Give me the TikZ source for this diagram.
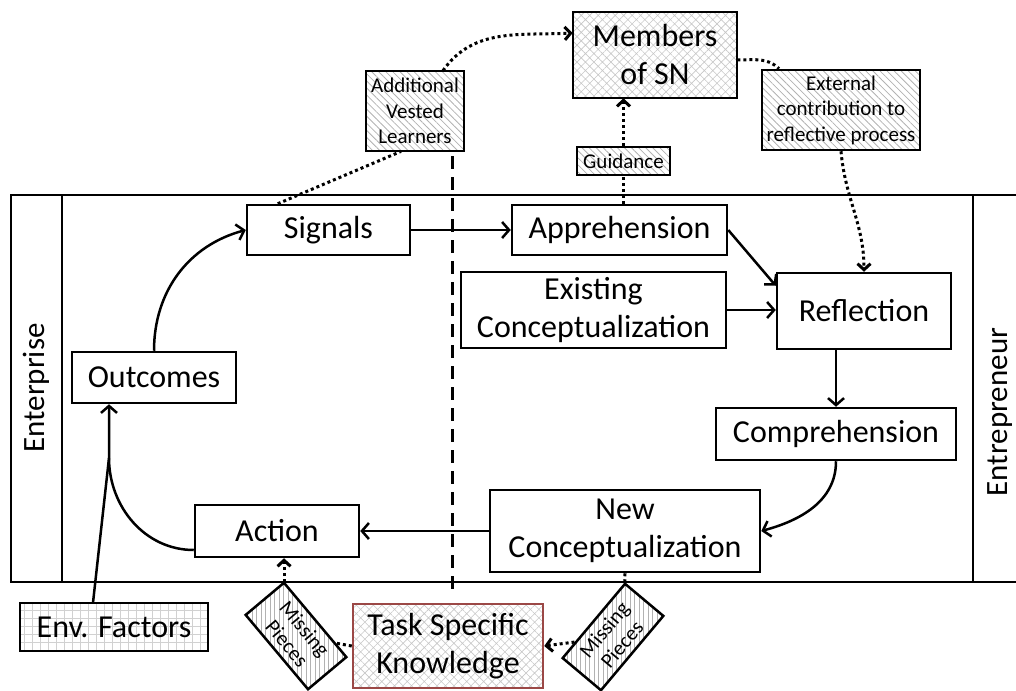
\documentclass[tikz,border=0pt]{standalone}
\usepackage{fontspec}
\setmainfont{Carlito}
\usetikzlibrary{arrows.meta, patterns.meta, positioning, calc}
\definecolor{taskred}{RGB}{155,72,70}
\tikzset{stage/.style={draw, line width=2.5pt, align=center, inner sep=0pt, font=\fontsize{32}{38}\selectfont}}
\tikzset{snbox/.style={stage, pattern={Hatch[angle=45, distance=6pt, line width=0.6pt]}, pattern color=black!22}}
\tikzset{envbox/.style={stage, pattern={Hatch[angle=0, distance=8pt, line width=0.6pt]}, pattern color=black!18}}
\tikzset{hatched/.style={draw, line width=2.5pt, align=center, inner sep=0pt, pattern={Lines[angle=-45, distance=5pt, line width=0.8pt]}, pattern color=black!30, font=\fontsize{21}{25.5}\selectfont}}
\tikzset{gapbox/.style={hatched, pattern={Lines[angle=90, distance=4.5pt, line width=0.8pt]}, font=\fontsize{21}{23}\selectfont, minimum width=97pt, minimum height=50pt}}
\tikzset{sidelabel/.style={rotate=90, font=\fontsize{31}{37}\selectfont}}
\tikzset{bandline/.style={line width=2.5pt}}
\tikzset{flow/.style={line width=2.5pt, -{Straight Barb[length=7pt, width=16pt]}}}
\tikzset{link/.style={line width=3pt, dash pattern=on 3pt off 3pt}}
\tikzset{linkto/.style={link, -{Straight Barb[length=6pt, width=13pt]}}}

\begin{document}
\begin{tikzpicture}[x=1pt, y=1pt]
\useasboundingbox (0,0) rectangle (1016,-690);
% enterprise / entrepreneur band
\draw[bandline] (1016,-195) -- (11,-195) -- (11,-582) -- (1016,-582);
\draw[bandline] (62,-195) -- (62,-582);
\draw[bandline] (973,-195) -- (973,-582);
\draw[line width=3pt, dash pattern=on 13pt off 8pt] (452,-156) -- (452,-592);
\node[sidelabel] (enterprise) at (36,-388) {Enterprise};
\node[sidelabel] (entrepreneur) at (1000,-412) {Entrepreneur};

% social network
\node[snbox, minimum width=164pt, minimum height=86pt] (members) at (655,-55) {Members\\of SN};
\node[hatched, minimum width=98pt, minimum height=80pt] (vested) at (415,-111) {Additional\\Vested\\Learners};
\node[hatched, minimum width=158pt, minimum height=80pt] (external) at (841,-110) {External\\contribution to\\reflective process};
\node[hatched, minimum width=93pt, minimum height=28pt] (guidance) at (623.5,-161) {Guidance};

% learning cycle
\node[stage, minimum width=163pt, minimum height=50pt] (signals) at (328.5,-230) {Signals};
\node[stage, minimum width=215pt, minimum height=50pt] (apprehension) at (619.5,-230) {Apprehension};
\node[stage, minimum width=265pt, minimum height=76pt] (existing) at (593.5,-310) {Existing\\Conceptualization};
\node[stage, minimum width=174pt, minimum height=76pt] (reflection) at (864,-311) {Reflection};
\node[stage, minimum width=240pt, minimum height=52pt] (comprehension) at (836,-434) {Comprehension};
\node[stage, minimum width=270pt, minimum height=82pt] (newconcept) at (625,-531) {New\\Conceptualization};
\node[stage, minimum width=164pt, minimum height=52pt] (action) at (277,-531) {Action};
\node[stage, minimum width=164pt, minimum height=51pt] (outcomes) at (154,-377.5) {Outcomes};

% below the band
\node[envbox, minimum width=188pt, minimum height=48pt] (envfactors) at (114,-627) {Env. Factors};
\node[snbox, draw=taskred, minimum width=190pt, minimum height=84pt] (taskknow) at (448,-646) {Task Specific\\Knowledge};
\node[gapbox, rotate=-50] (gapleft) at (296,-636) {Missing\\Pieces};
\node[gapbox, rotate=50] (gapright) at (613,-637) {Missing\\Pieces};

\draw[flow] (outcomes.north) to[out=90, in=195] (signals.west);
\draw[flow] (signals) -- (apprehension);
\draw[flow] (apprehension.east) -- ([yshift=-14pt]reflection.north west);
\draw[flow] (existing.east) -- (existing.east -| reflection.west);
\draw[flow] (comprehension.north |- reflection.south) -- (comprehension.north);
\draw[flow] (comprehension.south) to[out=-90, in=15] (newconcept.east);
\draw[flow] (newconcept) -- (action);
\coordinate (merge) at (109,-458);
\draw[flow] ([yshift=-19pt]action.west) to[out=180, in=-90] (merge) -- (merge |- outcomes.south);
\draw[bandline] ([xshift=-21pt]envfactors.north) -- (merge);

\draw[link] ([xshift=32pt]signals.north west) -- ([xshift=-14pt]vested.south);
\draw[linkto] ([xshift=28pt]vested.north) to[out=55, in=183] ([yshift=22pt]members.west);
\draw[link] ([yshift=-5pt]members.east) to[out=0, in=135] ([xshift=-62pt]external.north);
\draw[linkto] (external.south) to[out=-85, in=90] (reflection.north);
\draw[link] (apprehension.north -| guidance.south) -- (guidance.south);
\draw[linkto] (guidance.north) -- (guidance.north |- members.south);
\draw[link] (taskknow.west) -- (gapleft);
\draw[linkto] (gapleft.north west) -- (gapleft.north west |- action.south);
\draw[link] (newconcept.south) -- (gapright.north east);
\draw[linkto] (gapright) -- (taskknow.east);
\end{tikzpicture}
\end{document}
